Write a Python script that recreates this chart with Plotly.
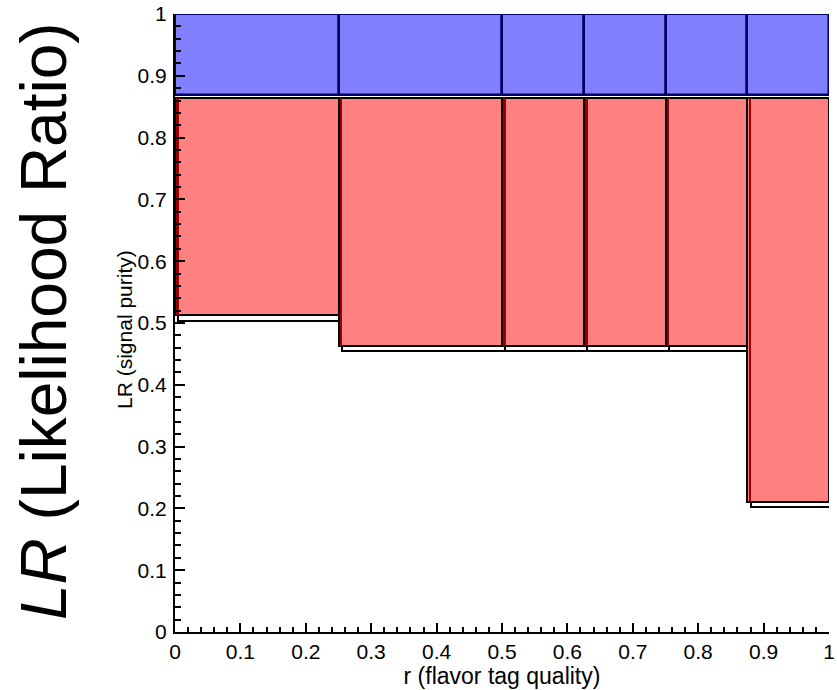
import plotly.graph_objects as go

# ---- data ----
bin_edges = [0.0, 0.25, 0.5, 0.625, 0.75, 0.875, 1.0]
red_lower = [0.513, 0.463, 0.463, 0.463, 0.463, 0.211]
shadow_lower = [0.503, 0.455, 0.455, 0.455, 0.455, 0.202]
red_top = [0.864, 0.864, 0.864, 0.864, 0.864, 0.864]
blue_lower = [0.869, 0.869, 0.869, 0.869, 0.869, 0.869]
blue_top = [1.0, 1.0, 1.0, 1.0, 1.0, 1.0]
tick_vals = [0, 0.1, 0.2, 0.3, 0.4, 0.5, 0.6, 0.7, 0.8, 0.9, 1]
tick_text = ["0", "0.1", "0.2", "0.3", "0.4", "0.5", "0.6", "0.7", "0.8", "0.9", "1"]

left = bin_edges[:-1]
right = bin_edges[1:]
centers = [(a + b) / 2 for a, b in zip(left, right)]
widths = [b - a for a, b in zip(left, right)]

FONT = "Liberation Sans, Arial, Helvetica, sans-serif"
shift = 0.005

fig = go.Figure()

# shadow outline boxes (slightly offset)
fig.add_trace(go.Bar(
    x=[c + shift for c in centers], width=widths,
    base=shadow_lower, y=[t - 0.006 - b for t, b in zip(red_top, shadow_lower)],
    marker=dict(color="rgba(255,255,255,0)", line=dict(color="black", width=2)),
    showlegend=False, hoverinfo="skip"))

# red boxes
fig.add_trace(go.Bar(
    x=centers, width=widths,
    base=red_lower, y=[t - b for t, b in zip(red_top, red_lower)],
    marker=dict(color="#FF8080", line=dict(color="black", width=2)),
    showlegend=False))

# dark-red left edge of red boxes
fig.add_trace(go.Bar(
    x=[a + 0.004 for a in left], width=[0.004] * len(left),
    base=red_lower, y=[t - b for t, b in zip(red_top, red_lower)],
    marker=dict(color="#990000", line=dict(width=0)),
    showlegend=False, hoverinfo="skip"))

# blue boxes
fig.add_trace(go.Bar(
    x=centers, width=widths,
    base=blue_lower, y=[t - b for t, b in zip(blue_top, blue_lower)],
    marker=dict(color="#8080FF", line=dict(color="#000066", width=2.5)),
    showlegend=False))

fig.update_layout(
    width=837, height=690,
    margin=dict(l=175, r=8, t=14, b=58, autoexpand=False),
    paper_bgcolor="white", plot_bgcolor="white",
    barmode="overlay", bargap=0,
    font=dict(family=FONT, color="black"),
    xaxis=dict(range=[0, 1], tickvals=tick_vals, ticktext=tick_text,
               ticks="inside", ticklen=9, tickwidth=2, tickcolor="black",
               minor=dict(dtick=0.02, ticks="inside", ticklen=5, tickwidth=2, tickcolor="black"),
               showline=True, linecolor="black", linewidth=2, showgrid=False, zeroline=False,
               ticklabeloverflow="allow", automargin=False,
               tickfont=dict(size=21, family=FONT),
               title=dict(text="r (flavor tag quality)", font=dict(size=23, family=FONT), standoff=4)),
    yaxis=dict(range=[0, 1], tickvals=tick_vals, ticktext=tick_text,
               ticks="inside", ticklen=10, tickwidth=2, tickcolor="black",
               minor=dict(dtick=0.02, ticks="inside", ticklen=6, tickwidth=2, tickcolor="black"),
               showline=True, linecolor="black", linewidth=2, showgrid=False, zeroline=False,
               automargin=False,
               tickfont=dict(size=21, family=FONT), ticklabelstandoff=2),
    annotations=[
        dict(text="<i>LR</i> (Likelihood Ratio)", textangle=-90, showarrow=False,
             xref="paper", yref="paper", x=(44 - 175) / 654, y=(632 - 321) / 618,
             xanchor="center", yanchor="middle", font=dict(size=64, family=FONT, color="black")),
        dict(text="LR (signal purity)", textangle=-90, showarrow=False,
             xref="paper", yref="paper", x=(125 - 175) / 654, y=(632 - 330) / 618,
             xanchor="center", yanchor="middle", font=dict(size=21, family=FONT, color="black")),
    ],
)

fig.write_html("out.html")
